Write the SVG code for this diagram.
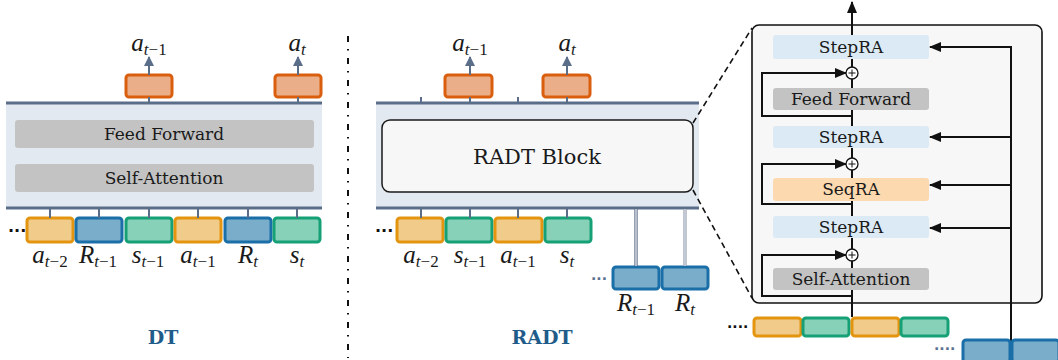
<svg xmlns="http://www.w3.org/2000/svg" width="1058" height="360" viewBox="0 0 1058 360">
  <style>
    .band { fill: #e2e9f0; }
    .rail { stroke: #5a6e8a; stroke-width: 3; fill: none; }
    .stub { stroke: #5a6e8a; stroke-width: 2; fill: none; }
    .layer { fill: #c3c3c3; }
    .step { fill: #dbeaf5; }
    .seq { fill: #fdd9b0; }
    .lbl { font-family: "DejaVu Serif", "Liberation Serif", serif; font-size: 17px; fill: #1a1a1a; text-anchor: middle; }
    .big { font-family: "DejaVu Serif", "Liberation Serif", serif; font-size: 21px; fill: #1a1a1a; text-anchor: middle; }
    .title { font-family: "DejaVu Serif", "Liberation Serif", serif; font-size: 19px; font-weight: bold; fill: #1f5c8a; text-anchor: middle; }
    .m { font-family: "Liberation Serif", "DejaVu Serif", serif; font-style: italic; font-size: 25px; fill: #1a1a1a; text-anchor: middle; }
    .sub { font-size: 17px; }
    .up { font-style: normal; }
    .tok-a { fill: #f0cb8a; stroke: #e39510; stroke-width: 3; }
    .tok-s { fill: #86d1b8; stroke: #16a076; stroke-width: 3; }
    .tok-r { fill: #7aadc9; stroke: #1a6fa8; stroke-width: 3; }
    .tok-o { fill: #eaaf88; stroke: #d95f0e; stroke-width: 3; }
    .wire { stroke: #111; stroke-width: 2; fill: none; }
    .dash { stroke: #111; stroke-width: 1.6; fill: none; stroke-dasharray: 6 4; }
    .dots { font-family: "DejaVu Sans", sans-serif; font-size: 16px; font-weight: bold; fill: #111; }
    .sdots { font-family: "DejaVu Sans", sans-serif; font-size: 14px; font-weight: bold; fill: #5a7090; }
  </style>
  <defs>
    <marker id="ah-slate" markerWidth="10" markerHeight="10" refX="9" refY="5" orient="auto" markerUnits="userSpaceOnUse">
      <path d="M0,0 L10,5 L0,10 z" fill="#5a6e8a"/>
    </marker>
    <marker id="ah-black" markerWidth="12" markerHeight="10" refX="11" refY="5" orient="auto" markerUnits="userSpaceOnUse">
      <path d="M0,0 L12,5 L0,10 z" fill="#111"/>
    </marker>
  </defs>

  <rect width="1058" height="360" fill="#ffffff"/>

  <!-- ===== DT panel ===== -->
  <g id="dt-stack">
    <rect class="band" x="6" y="103" width="316" height="105"/>
    <line class="rail" x1="6" y1="103" x2="322" y2="103"/>
    <line class="rail" x1="6" y1="208" x2="322" y2="208"/>
    <rect class="layer" x="15" y="120" width="299" height="28" rx="3"/>
    <text class="lbl" x="164" y="140">Feed Forward</text>
    <rect class="layer" x="15" y="164" width="299" height="28" rx="3"/>
    <text class="lbl" x="164" y="184">Self-Attention</text>
  </g>

  <g id="dt-outputs">
    <rect class="tok-o" x="126" y="75" width="46" height="22" rx="3"/>
    <rect class="tok-o" x="275" y="75" width="46" height="22" rx="3"/>
    <text class="m" x="149" y="51">a<tspan class="sub" dy="4">t<tspan class="up">−1</tspan></tspan></text>
    <text class="m" x="297" y="51">a<tspan class="sub" dy="4">t</tspan></text>
  </g>

  <g id="dt-inputs">
    <text class="dots" x="8" y="236">···</text>
    <rect class="tok-a" x="27" y="218" width="46" height="24" rx="3"/>
    <rect class="tok-r" x="76" y="218" width="46" height="24" rx="3"/>
    <rect class="tok-s" x="126" y="218" width="46" height="24" rx="3"/>
    <rect class="tok-a" x="175" y="218" width="46" height="24" rx="3"/>
    <rect class="tok-r" x="225" y="218" width="46" height="24" rx="3"/>
    <rect class="tok-s" x="274" y="218" width="46" height="24" rx="3"/>
    <text class="m" x="50" y="263">a<tspan class="sub" dy="4">t<tspan class="up">−2</tspan></tspan></text>
    <text class="m" x="98" y="263">R<tspan class="sub" dy="4">t<tspan class="up">−1</tspan></tspan></text>
    <text class="m" x="148" y="263">s<tspan class="sub" dy="4">t<tspan class="up">−1</tspan></tspan></text>
    <text class="m" x="198" y="263">a<tspan class="sub" dy="4">t<tspan class="up">−1</tspan></tspan></text>
    <text class="m" x="248" y="263">R<tspan class="sub" dy="4">t</tspan></text>
    <text class="m" x="297" y="263">s<tspan class="sub" dy="4">t</tspan></text>
  </g>

  <g id="dt-title">
    <text class="title" x="163" y="344">DT</text>
  </g>

  <!-- panel divider -->
  <g id="divider">
    <line x1="348" y1="36" x2="348" y2="358" stroke="#111" stroke-width="2" stroke-dasharray="6 7 1.5 7.5"/>
  </g>

  <!-- ===== RADT panel ===== -->
  <g id="radt-stack">
    <rect class="band" x="376" y="103" width="323" height="105"/>
    <line class="rail" x1="376" y1="103" x2="699" y2="103"/>
    <line class="rail" x1="376" y1="208" x2="699" y2="208"/>
    <rect x="382" y="120" width="311" height="72" rx="8" fill="#f7f7f7" stroke="#1a1a1a" stroke-width="1.5"/>
    <text class="big" x="537" y="164">RADT Block</text>
  </g>

  <g id="radt-outputs">
    <rect class="tok-o" x="445" y="75" width="47" height="22" rx="3"/>
    <rect class="tok-o" x="543" y="75" width="47" height="22" rx="3"/>
    <text class="m" x="470" y="51">a<tspan class="sub" dy="4">t<tspan class="up">−1</tspan></tspan></text>
    <text class="m" x="567" y="51">a<tspan class="sub" dy="4">t</tspan></text>
  </g>

  <g id="radt-inputs">
    <text class="dots" x="375" y="236">···</text>
    <rect class="tok-a" x="397" y="218" width="46" height="24" rx="3"/>
    <rect class="tok-s" x="446" y="218" width="46" height="24" rx="3"/>
    <rect class="tok-a" x="495" y="218" width="47" height="24" rx="3"/>
    <rect class="tok-s" x="545" y="218" width="46" height="24" rx="3"/>
    <text class="m" x="421" y="263">a<tspan class="sub" dy="4">t<tspan class="up">−2</tspan></tspan></text>
    <text class="m" x="470" y="263">s<tspan class="sub" dy="4">t<tspan class="up">−1</tspan></tspan></text>
    <text class="m" x="518" y="263">a<tspan class="sub" dy="4">t<tspan class="up">−1</tspan></tspan></text>
    <text class="m" x="567" y="263">s<tspan class="sub" dy="4">t</tspan></text>
  </g>

  <g id="radt-returns">
    <text class="sdots" x="591" y="284">···</text>
    <rect class="tok-r" x="613" y="267" width="46" height="22" rx="3"/>
    <rect class="tok-r" x="662" y="267" width="46" height="22" rx="3"/>
    <text class="m" x="636" y="311">R<tspan class="sub" dy="4">t<tspan class="up">−1</tspan></tspan></text>
    <text class="m" x="685" y="311">R<tspan class="sub" dy="4">t</tspan></text>
  </g>

  <g id="radt-title">
    <text class="title" x="542" y="344">RADT</text>
  </g>

  <!-- ===== expanded block ===== -->
  <g id="block-frame">
    <rect x="752" y="25" width="290" height="278" rx="7" fill="#f7f7f7" stroke="#111" stroke-width="1.6"/>
  </g>

  <g id="connectors">
    <!-- DT -->
    <line class="stub" x1="149" y1="75" x2="149" y2="57" marker-end="url(#ah-slate)"/>
    <line class="stub" x1="298" y1="75" x2="298" y2="57" marker-end="url(#ah-slate)"/>
    <line class="stub" x1="149" y1="97" x2="149" y2="103"/>
    <line class="stub" x1="298" y1="97" x2="298" y2="103"/>
    <line class="stub" x1="50" y1="208" x2="50" y2="218"/>
    <line class="stub" x1="99" y1="208" x2="99" y2="218"/>
    <line class="stub" x1="149" y1="208" x2="149" y2="218"/>
    <line class="stub" x1="198" y1="208" x2="198" y2="218"/>
    <line class="stub" x1="248" y1="208" x2="248" y2="218"/>
    <line class="stub" x1="297" y1="208" x2="297" y2="218"/>
    <!-- RADT -->
    <line class="stub" x1="470" y1="75" x2="470" y2="57" marker-end="url(#ah-slate)"/>
    <line class="stub" x1="567" y1="75" x2="567" y2="57" marker-end="url(#ah-slate)"/>
    <line class="stub" x1="421" y1="97" x2="421" y2="103"/>
    <line class="stub" x1="470" y1="97" x2="470" y2="103"/>
    <line class="stub" x1="518" y1="97" x2="518" y2="103"/>
    <line class="stub" x1="567" y1="97" x2="567" y2="103"/>
    <line class="stub" x1="421" y1="208" x2="421" y2="218"/>
    <line class="stub" x1="470" y1="208" x2="470" y2="218"/>
    <line class="stub" x1="518" y1="208" x2="518" y2="218"/>
    <line class="stub" x1="567" y1="208" x2="567" y2="218"/>
    <!-- return feeds (double rule) -->
    <line x1="636" y1="209" x2="636" y2="266" stroke="#4f6180" stroke-width="3.2"/>
    <line x1="636" y1="209" x2="636" y2="266" stroke="#ffffff" stroke-width="1.2"/>
    <line x1="685" y1="209" x2="685" y2="266" stroke="#98a2b3" stroke-width="3.2"/>
    <line x1="685" y1="209" x2="685" y2="266" stroke="#dfe3ea" stroke-width="1.2"/>
    <!-- zoom guides -->
    <line class="dash" x1="693" y1="123" x2="752" y2="28"/>
    <line class="dash" x1="693" y1="190" x2="752" y2="298"/>
    <!-- main path through block -->
    <line class="wire" x1="852" y1="317" x2="852" y2="2" marker-end="url(#ah-black)"/>
    <!-- residual loops -->
    <polyline class="wire" points="852,116 762,116 762,73 846,73" marker-end="url(#ah-black)"/>
    <polyline class="wire" points="852,204 762,204 762,164 846,164" marker-end="url(#ah-black)"/>
    <polyline class="wire" points="852,296 762,296 762,255 846,255" marker-end="url(#ah-black)"/>
    <!-- return feed into retrieval layers -->
    <line class="wire" x1="1011" y1="360" x2="1011" y2="46"/>
    <line class="wire" x1="1012" y1="47" x2="930" y2="47" marker-end="url(#ah-black)"/>
    <line class="wire" x1="1012" y1="137" x2="930" y2="137" marker-end="url(#ah-black)"/>
    <line class="wire" x1="1012" y1="185" x2="930" y2="185" marker-end="url(#ah-black)"/>
    <line class="wire" x1="1012" y1="228" x2="930" y2="228" marker-end="url(#ah-black)"/>
  </g>

  <g id="steprq-top">
    <rect class="step" x="773" y="35" width="156" height="24" rx="3"/>
    <text class="lbl" x="851" y="53">StepRA</text>
  </g>
  <g id="add-1">
    <circle cx="852" cy="73" r="6" fill="#fff" stroke="#111" stroke-width="1.3"/>
    <path d="M848.5,73 H855.5 M852,69.5 V76.5" stroke="#111" stroke-width="1"/>
  </g>
  <g id="feed-forward">
    <rect class="layer" x="773" y="88" width="156" height="22" rx="3"/>
    <text class="lbl" x="851" y="105">Feed Forward</text>
  </g>
  <g id="steprq-mid">
    <rect class="step" x="773" y="126" width="156" height="22" rx="3"/>
    <text class="lbl" x="851" y="143">StepRA</text>
  </g>
  <g id="add-2">
    <circle cx="852" cy="164" r="6" fill="#fff" stroke="#111" stroke-width="1.3"/>
    <path d="M848.5,164 H855.5 M852,160.5 V167.5" stroke="#111" stroke-width="1"/>
  </g>
  <g id="seqra">
    <rect class="seq" x="773" y="178" width="156" height="23" rx="3"/>
    <text class="lbl" x="851" y="195">SeqRA</text>
  </g>
  <g id="steprq-low">
    <rect class="step" x="773" y="216" width="156" height="22" rx="3"/>
    <text class="lbl" x="851" y="233">StepRA</text>
  </g>
  <g id="add-3">
    <circle cx="852" cy="255" r="6" fill="#fff" stroke="#111" stroke-width="1.3"/>
    <path d="M848.5,255 H855.5 M852,251.5 V258.5" stroke="#111" stroke-width="1"/>
  </g>
  <g id="self-attention">
    <rect class="layer" x="773" y="268" width="156" height="22" rx="3"/>
    <text class="lbl" x="851" y="285">Self-Attention</text>
  </g>

  <g id="block-inputs">
    <text x="727" y="332" font-family="DejaVu Sans, sans-serif" font-size="14" font-weight="bold" fill="#111">····</text>
    <rect class="tok-a" x="754" y="318" width="47" height="18" rx="3"/>
    <rect class="tok-s" x="803" y="318" width="46" height="18" rx="3"/>
    <rect class="tok-a" x="852" y="318" width="47" height="18" rx="3"/>
    <rect class="tok-s" x="901" y="318" width="47" height="18" rx="3"/>
  </g>

  <g id="block-returns">
    <text class="sdots" x="934" y="354">····</text>
    <rect class="tok-r" x="963" y="340" width="47" height="22" rx="3"/>
    <rect class="tok-r" x="1012" y="340" width="47" height="22" rx="3"/>
  </g>
</svg>
